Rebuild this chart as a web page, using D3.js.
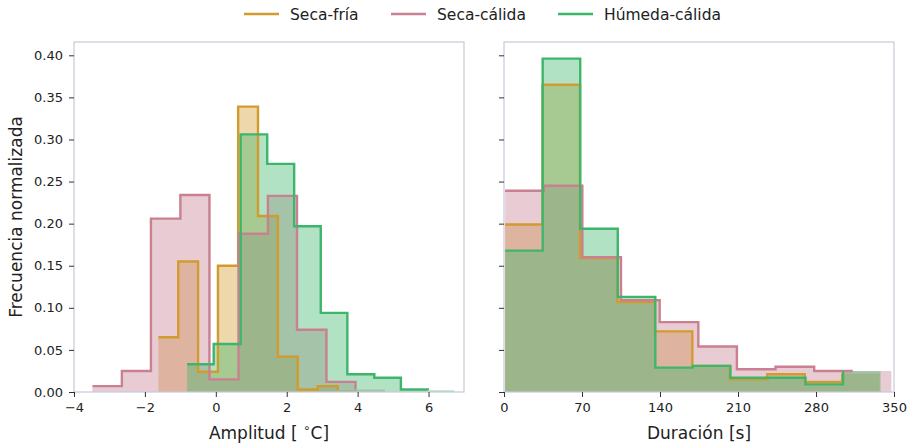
<!DOCTYPE html>
<html>
<head>
<meta charset="utf-8">
<script src="https://cdn.jsdelivr.net/npm/d3@7"></script>
<style>
  html, body { margin: 0; padding: 0; background: #fff; }
  svg { display: block; font-family: "DejaVu Sans", sans-serif; }
</style>
</head>
<body>
<svg id="chart" width="912" height="444"></svg>
<script>
// ---------------- data ----------------
const seriesNames = ["Seca-fría", "Seca-cálida", "Húmeda-cálida"];
const seriesColors = ["#d29b2e", "#c98090", "#3db66c"];

// Left panel: Amplitud [°C]  (10 bins each; edges + normalized frequencies)
const ampEdgesFria    = [-1.62, -1.06, -0.50, 0.06, 0.63, 1.19, 1.75, 2.31, 2.87, 3.44, 4.00];
const ampFria         = [0.065, 0.155, 0.024, 0.150, 0.339, 0.209, 0.042, 0.003, 0.007, 0.002];
const ampEdgesCalida  = [-3.48, -2.65, -1.83, -1.00, -0.18, 0.64, 1.47, 2.29, 3.12, 3.94, 4.77];
const ampCalida       = [0.007, 0.025, 0.206, 0.234, 0.015, 0.188, 0.233, 0.074, 0.012, 0.003];
const ampEdgesHumeda  = [-0.81, -0.06, 0.70, 1.45, 2.21, 2.96, 3.71, 4.47, 5.22, 5.98, 6.73];
const ampHumeda       = [0.033, 0.057, 0.306, 0.271, 0.197, 0.094, 0.021, 0.017, 0.003, 0.002];

// Right panel: Duración [s]
const durEdgesFria    = [1, 34.6, 68.2, 101.8, 135.4, 169.0, 202.7, 236.3, 269.9, 303.5, 337.1];
const durFria         = [0.199, 0.365, 0.159, 0.107, 0.072, 0.031, 0.015, 0.021, 0.012, 0.022];
const durEdgesCalida  = [1, 35.7, 70.3, 105.0, 139.7, 174.4, 209.0, 243.7, 278.4, 313.0, 347.7];
const durCalida       = [0.239, 0.245, 0.160, 0.109, 0.083, 0.054, 0.027, 0.030, 0.025, 0.025];
const durEdgesHumeda  = [1, 34.7, 68.4, 102.1, 135.8, 169.5, 203.2, 236.9, 270.6, 304.3, 338.0];
const durHumeda       = [0.168, 0.396, 0.194, 0.113, 0.029, 0.031, 0.017, 0.017, 0.009, 0.025];

const ampTicks = [-4, -2, 0, 2, 4, 6];
const durTicks = [0, 70, 140, 210, 280, 350];
const yTicks   = [0, 0.05, 0.10, 0.15, 0.20, 0.25, 0.30, 0.35, 0.40];

// ---------------- layout ----------------
const svg = d3.select("#chart");
const plotTop = 42, plotBottom = 392;
const panels = [
  { x0: 74,  x1: 464, domain: [-4, 7],  ticks: ampTicks, fmt: d3.format("d"),
    edges: [ampEdgesFria, ampEdgesCalida, ampEdgesHumeda], vals: [ampFria, ampCalida, ampHumeda], ylabels: true },
  { x0: 504, x1: 894, domain: [0, 350], ticks: durTicks, fmt: d3.format("d"),
    edges: [durEdgesFria, durEdgesCalida, durEdgesHumeda], vals: [durFria, durCalida, durHumeda], ylabels: false }
];

const allVals = [].concat(ampFria, ampCalida, ampHumeda, durFria, durCalida, durHumeda);
const y = d3.scaleLinear().domain([0, d3.max(allVals) * 1.05]).range([plotBottom, plotTop]);

const spineColor = "#c9c9da";
const tickColor = "#333";

panels.forEach(p => {
  const x = d3.scaleLinear().domain(p.domain).range([p.x0, p.x1]);
  const g = svg.append("g");
  const gFill = g.append("g");
  const gLine = g.append("g");

  // histograms: all fills first, then the step outlines on top
  p.edges.forEach((edges, si) => {
    const h = p.vals[si];
    const fillPts = edges.map((e, i) => [e, i < h.length ? h[i] : h[h.length - 1]]);
    const area = d3.area().curve(d3.curveStepAfter)
      .x(d => x(d[0])).y0(y(0)).y1(d => y(d[1]));
    gFill.append("path").attr("d", area(fillPts))
      .attr("fill", seriesColors[si]).attr("fill-opacity", 0.4);

    const linePts = h.map((v, i) => [edges[i], v]);
    const line = d3.line().curve(d3.curveStepAfter).x(d => x(d[0])).y(d => y(d[1]));
    gLine.append("path").attr("d", line(linePts))
      .attr("fill", "none").attr("stroke", seriesColors[si]).attr("stroke-width", 2.4)
      .attr("stroke-linejoin", "miter");
  });

  // frame
  g.append("rect").attr("x", p.x0).attr("y", plotTop).attr("width", p.x1 - p.x0).attr("height", plotBottom - plotTop)
    .attr("fill", "none").attr("stroke", spineColor).attr("stroke-width", 1.2);

  // x axis
  const xa = g.append("g").attr("transform", `translate(0,${plotBottom})`)
    .call(d3.axisBottom(x).tickValues(p.ticks).tickFormat(p.fmt).tickSize(5).tickPadding(6));
  xa.select(".domain").remove();
  xa.selectAll("line").attr("stroke", tickColor).attr("stroke-width", 1);
  xa.selectAll("text").attr("font-size", 13).attr("fill", "#222").attr("font-family", "DejaVu Sans");

  // y axis
  const ya = g.append("g").attr("transform", `translate(${p.x0},0)`)
    .call(d3.axisLeft(y).tickValues(yTicks).tickFormat(p.ylabels ? d3.format(".2f") : () => "")
      .tickSize(5).tickPadding(6));
  ya.select(".domain").remove();
  ya.selectAll("line").attr("stroke", tickColor).attr("stroke-width", 1);
  ya.selectAll("text").attr("font-size", 13).attr("fill", "#222").attr("font-family", "DejaVu Sans");
});

// axis labels
const xl1 = svg.append("text").attr("x", 269).attr("y", 439).attr("text-anchor", "middle")
  .attr("font-size", 17).attr("fill", "#222");
xl1.append("tspan").text("Amplitud [ ");
xl1.append("tspan").text("∘").attr("font-size", 12).attr("dy", -7);
xl1.append("tspan").text("C]").attr("dy", 7).attr("font-size", 17);

svg.append("text").attr("x", 699).attr("y", 439).attr("text-anchor", "middle")
  .attr("font-size", 17).attr("fill", "#222").text("Duración [s]");

svg.append("text").attr("transform", `translate(22,${(plotTop + plotBottom) / 2}) rotate(-90)`)
  .attr("text-anchor", "middle").attr("font-size", 17).attr("fill", "#222")
  .text("Frecuencia normalizada");

// legend
const legendX = [244, 391, 558];
seriesNames.forEach((name, i) => {
  const lg = svg.append("g").attr("transform", `translate(${legendX[i]},14)`);
  lg.append("line").attr("x1", 0).attr("x2", 35).attr("y1", 0).attr("y2", 0)
    .attr("stroke", seriesColors[i]).attr("stroke-width", 2.4);
  lg.append("text").attr("x", 46).attr("y", 5.5).attr("font-size", 15.5).attr("fill", "#222").text(name);
});
</script>
</body>
</html>
